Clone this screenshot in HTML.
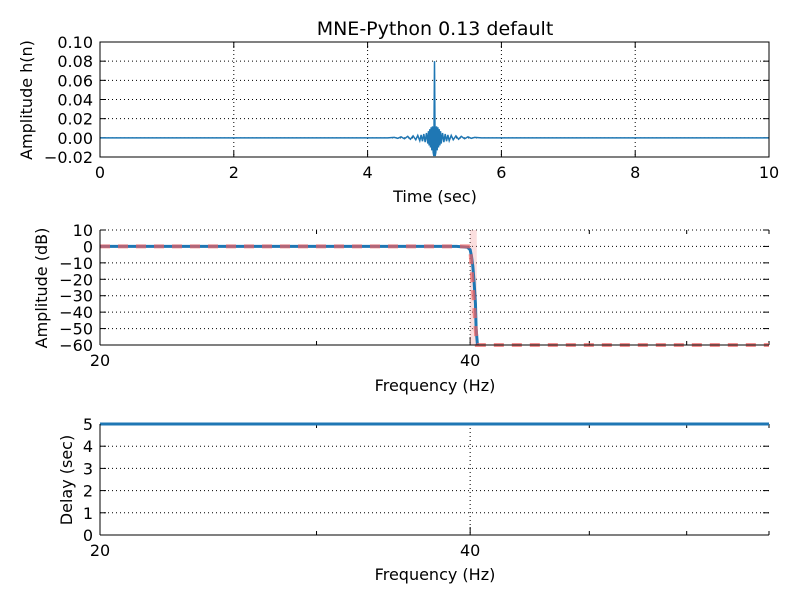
<!DOCTYPE html>
<html><head><meta charset="utf-8"><style>
body{margin:0;background:#fff}
svg{font-family:"DejaVu Sans","Liberation Sans",sans-serif}
text{font-size:16px;fill:#000}
</style></head><body>
<svg id="s" width="800" height="600"></svg>
<script>
// top: impulse response
const impT=[0,4.3,4.4,4.45,4.5,4.55,4.6,4.64,4.68,4.72,4.75,4.78,4.8,4.82,4.84,4.86,4.88,4.9,4.91,4.92,4.93,4.94,4.95,4.96,4.97,4.98,4.99,5.0,5.01,5.02,5.03,5.04,5.05,5.06,5.07,5.08,5.09,5.1,5.12,5.14,5.16,5.18,5.2,5.22,5.25,5.28,5.32,5.36,5.4,5.45,5.5,5.55,5.6,5.7,10];
const impV=[0,0,0.0005,-0.0005,0.001,-0.001,0.0015,-0.0015,0.002,-0.002,0.0025,-0.003,0.003,-0.0035,0.004,-0.0045,0.005,-0.006,0.007,-0.008,0.009,-0.01,0.011,-0.013,0.012,-0.015,-0.019,0.08,-0.019,-0.015,0.012,-0.013,0.011,-0.01,0.009,-0.008,0.007,-0.006,0.005,-0.0045,0.004,-0.0035,0.003,-0.003,0.0025,-0.002,0.002,-0.0015,0.0015,-0.001,0.001,-0.0005,0.0005,0,0];
const topYTicks=[0.1,0.08,0.06,0.04,0.02,0,-0.02];
const topYLabels=["0.10","0.08","0.06","0.04","0.02","0.00","\u22120.02"];
const topXTicks=[0,2,4,6,8,10];
// middle: magnitude
const magF=[20,39,39.8,40,40.1,40.2,40.3,40.4,40.45,40.55];
const magDb=[0,0,-0.5,-2,-6,-12,-22,-35,-50,-60];
const idealF=[20,40,40.5,70];
const idealDb=[0,0,-60,-60];
const midYTicks=[10,0,-10,-20,-30,-40,-50,-60];
// bottom: delay
const delF=[20,70];
const delV=[5,5];
const botYTicks=[5,4,3,2,1,0];
const freqMajor=[20,40];
const freqMinor=[30,50,60,70];

const S=document.getElementById('s');const NS='http://www.w3.org/2000/svg';
function mk(t,a,p){const e=document.createElementNS(NS,t);for(const k in a)e.setAttribute(k,a[k]);(p||S).appendChild(e);return e;}
const X0=100,X1=769;
const tx=v=>X0+(v-0)/10*(X1-X0);
const ty=v=>42+(0.1-v)/0.12*115;
const fx=f=>X0+Math.log10(f/20)/Math.log10(70/20)*(X1-X0);
const my=v=>230+(10-v)/70*115;
const by=v=>424+(5-v)/5*111;
function grid(x1,y1,x2,y2){const l=mk('line',{x1,y1,x2,y2,stroke:'#000','stroke-width':1,'stroke-dasharray':'1,3'});}
function txt(s,x,y,anc,name,size){const t=mk('text',{x,y,'text-anchor':anc||'middle'});if(size)t.style.fontSize=size+'px';t.textContent=s;return t;}
function poly(xs,ys,fx_,fy_,attrs,name){const p=mk('polyline',Object.assign({points:xs.map((v,i)=>fx_(v)+','+fy_(ys[i])).join(' '),fill:'none'},attrs));}

txt('MNE-Python 0.13 default',435,35,'middle','chart-title',19);

// TOP
topYTicks.forEach((v,i)=>{const y=ty(v);grid(X0,y,X1,y);mk('line',{x1:X0,y1:y,x2:X0+6,y2:y,stroke:'#000'});mk('line',{x1:X1,y1:y,x2:X1-6,y2:y,stroke:'#000'});txt(topYLabels[i],93,y+6,'end','top-y-tick-label');});
topXTicks.forEach(v=>{const x=tx(v);grid(x,42,x,157);mk('line',{x1:x,y1:157,x2:x,y2:151,stroke:'#000'});mk('line',{x1:x,y1:42,x2:x,y2:48,stroke:'#000'});txt(String(v),x,178,'middle','top-x-tick-label');});
poly(impT,impV,tx,ty,{stroke:'#1f77b4','stroke-width':1.5},'impulse-response-line');
{const r=mk('rect',{x:X0,y:42,width:X1-X0,height:115,fill:'none',stroke:'#000','stroke-width':1});}
txt('Time (sec)',435,202,'middle','top-x-axis-title');
{const t=txt('Amplitude h(n)',32,100,'middle','top-y-axis-title');t.setAttribute('transform','rotate(-90 32 100)');}

// MIDDLE
midYTicks.forEach(v=>{const y=my(v);grid(X0,y,X1,y);mk('line',{x1:X0,y1:y,x2:X0+6,y2:y,stroke:'#000'});mk('line',{x1:X1,y1:y,x2:X1-6,y2:y,stroke:'#000'});txt(String(v).replace('-','\u2212'),93,y+6,'end','mid-y-tick-label');});
freqMajor.forEach(f=>{const x=fx(f);grid(x,230,x,345);mk('line',{x1:x,y1:345,x2:x,y2:337,stroke:'#000'});txt(String(f),x,366,'middle','mid-x-tick-label');});
freqMinor.forEach(f=>{const x=fx(f);mk('line',{x1:x,y1:345,x2:x,y2:341,stroke:'#000'});mk('line',{x1:x,y1:230,x2:x,y2:234,stroke:'#000'});});
{const r=mk('rect',{x:fx(40),y:230,width:fx(40.5)-fx(40),height:115,fill:'#f4a0a0','fill-opacity':0.35});}
poly(magF,magDb,fx,my,{stroke:'#1f77b4','stroke-width':3},'magnitude-response-line');
poly(idealF,idealDb,fx,my,{stroke:'#f06060','stroke-width':4,'stroke-opacity':0.7,'stroke-dasharray':'10,8'},'ideal-response-line');
mk('line',{x1:X0,y1:230,x2:X0,y2:345,stroke:'#000'});mk('line',{x1:X0,y1:345,x2:X1,y2:345,stroke:'#000'});
txt('Frequency (Hz)',435,391,'middle','mid-x-axis-title');
{const t=txt('Amplitude (dB)',47,288,'middle','mid-y-axis-title');t.setAttribute('transform','rotate(-90 47 288)');}

// BOTTOM
botYTicks.forEach(v=>{const y=by(v);grid(X0,y,X1,y);mk('line',{x1:X0,y1:y,x2:X0+6,y2:y,stroke:'#000'});mk('line',{x1:X1,y1:y,x2:X1-6,y2:y,stroke:'#000'});txt(String(v),93,y+6,'end','bot-y-tick-label');});
freqMajor.forEach(f=>{const x=fx(f);grid(x,424,x,535);mk('line',{x1:x,y1:535,x2:x,y2:527,stroke:'#000'});txt(String(f),x,556,'middle','bot-x-tick-label');});
freqMinor.forEach(f=>{const x=fx(f);mk('line',{x1:x,y1:535,x2:x,y2:531,stroke:'#000'});mk('line',{x1:x,y1:424,x2:x,y2:428,stroke:'#000'});});
poly(delF,delV,fx,by,{stroke:'#1f77b4','stroke-width':3},'group-delay-line');
mk('line',{x1:X0,y1:424,x2:X0,y2:535,stroke:'#000'});mk('line',{x1:X0,y1:535,x2:X1,y2:535,stroke:'#000'});
txt('Frequency (Hz)',435,580,'middle','bot-x-axis-title');
{const t=txt('Delay (sec)',72,480,'middle','bot-y-axis-title');t.setAttribute('transform','rotate(-90 72 480)');}
</script>
</body></html>
